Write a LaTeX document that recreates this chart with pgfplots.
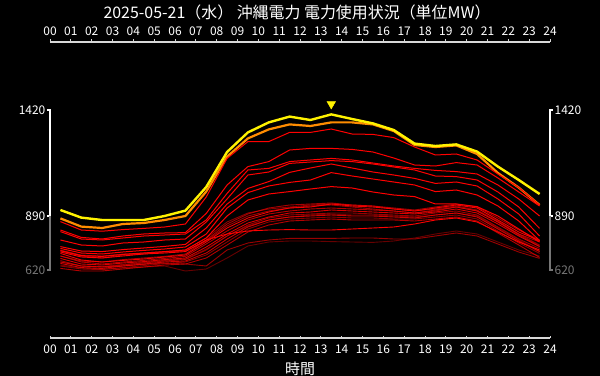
\documentclass[border=0pt]{standalone}
\usepackage{fontspec}
\setmainfont{Noto Sans CJK JP}
\usepackage{pgfplots}
\usepackage{pgfplotstable}
\pgfplotsset{compat=1.18}
\definecolor{axgray}{HTML}{D8D8D8}
\definecolor{lowgray}{HTML}{777777}
\definecolor{myorange}{HTML}{FF8C00}

\pgfplotstableread{
h Y O R1 R2 R3 R4 R5 R6 R7 C1 C2 C3 C4 C5 C6 C7 C8 C9 C10 C11 C12 C13 C14
0.5 920 878 862 820 812 770 737 728 717 703 690 678 667 653 640 628 660 645 690 710 715 660 720
1.5 882 837 820 783 775 745 715 705 692 670 660 650 640 632 625 615 640 630 665 685 690 640 695
2.5 870 830 814 775 770 740 712 700 688 660 650 645 635 628 622 615 635 625 660 680 680 638 690
3.5 870 850 822 790 780 755 722 710 698 668 660 655 645 640 632 625 640 630 672 690 695 648 700
4.5 870 855 828 800 790 760 730 718 705 675 668 662 655 650 642 635 648 635 680 700 700 658 705
5.5 890 870 835 805 795 770 738 725 712 685 678 672 665 660 652 645 655 640 688 705 710 668 712
6.5 917 890 850 807 800 775 748 735 720 695 688 680 672 665 660 650 650 615 700 712 715 675 720
7.5 1035 1012 985 903 870 860 830 800 780 760 750 735 720 705 695 680 640 625 770 770 765 725 780
8.5 1210 1187 1178 1045 1003 975 950 930 890 830 815 800 790 775 760 745 720 680 850 800 840 790 860
9.5 1308 1278 1262 1137 1120 1095 1028 1007 970 880 870 855 845 835 825 810 755 740 900 815 890 840 905
10.5 1358 1323 1262 1162 1128 1110 1062 1040 1000 910 900 885 880 870 860 845 770 760 930 820 915 870 925
11.5 1387 1348 1308 1220 1162 1153 1108 1058 1012 930 915 905 895 885 875 865 778 765 945 822 930 885 935
12.5 1370 1340 1308 1228 1170 1160 1130 1070 1025 935 925 910 900 890 880 870 778 765 950 820 940 895 945
13.5 1398 1358 1325 1228 1178 1167 1150 1107 1037 950 930 920 905 895 885 875 778 762 955 820 945 900 950
14.5 1375 1358 1300 1223 1170 1162 1130 1090 1030 940 925 915 905 890 880 870 780 760 945 825 935 895 945
15.5 1353 1348 1298 1210 1155 1150 1110 1075 1010 935 920 910 900 890 880 870 780 758 940 830 925 895 940
16.5 1320 1315 1282 1180 1140 1135 1095 1060 995 925 915 905 895 885 875 870 775 765 930 835 915 890 925
17.5 1252 1245 1235 1145 1128 1120 1078 1045 987 915 905 900 890 880 875 865 775 780 920 850 905 885 915
18.5 1240 1235 1195 1140 1118 1090 1053 1012 950 930 920 910 905 895 885 875 790 800 935 870 915 895 925
19.5 1248 1243 1200 1157 1112 1087 1060 1020 950 945 935 925 915 905 895 885 805 815 950 880 935 905 940
20.5 1212 1200 1170 1145 1100 1070 1040 995 937 930 915 905 895 885 875 865 790 800 935 860 915 890 920
21.5 1137 1105 1100 1080 1045 1010 975 940 890 870 860 850 835 825 815 805 750 760 880 810 860 830 865
22.5 1070 1032 1032 1010 975 935 900 865 825 810 800 790 775 765 755 745 710 720 820 760 795 770 800
23.5 1000 945 945 940 890 828 790 767 760 767 760 737 728 712 703 683 678 690 770 720 740 715 745
}\loaddata

\pgfplotsset{
  base/.style={
    at={(0,0)}, anchor=south west,
    scale only axis, width=500bp, height=296bp,
    xmin=0, xmax=24, ymin=280, ymax=1760,
    axis y line=none,
    x axis line style={draw=axgray, line width=1.1bp},
    xtick={0,1,...,24},
    xticklabels={00,01,02,03,04,05,06,07,08,09,10,11,12,13,14,15,16,17,18,19,20,21,22,23,24},
    major tick length=2.5bp,
    xtick style={draw=axgray, line width=0.8bp},
    clip=false,
  },
  cl/.style={red, opacity=#1, line width=0.9bp},
  rl/.style={red, line width=1bp},
}

\begin{document}
\begin{tikzpicture}
\fill[black] (-50bp,-38bp) rectangle (550bp,338bp);
\begin{axis}[base, axis x line*=top, xtick align=outside,
  xticklabel style={font=\fontsize{12}{12}\selectfont, text=white, inner sep=1bp, yshift=3bp}]
\end{axis}
\begin{axis}[base, axis x line*=bottom, xtick align=inside,
  xticklabel style={font=\fontsize{12}{12}\selectfont, text=white, inner sep=1bp, yshift=-6bp},
  xlabel={時間}, xlabel style={at={(axis description cs:0.5,0)}, anchor=center, yshift=-31bp, font=\fontsize{15}{15}\selectfont, text=white, inner sep=0bp}]
  \addplot[cl=0.4] table[x=h, y=C9] {\loaddata};
  \addplot[cl=0.45] table[x=h, y=C13] {\loaddata};
  \addplot[cl=0.55] table[x=h, y=C6] {\loaddata};
  \addplot[cl=0.55] table[x=h, y=C14] {\loaddata};
  \addplot[cl=0.6] table[x=h, y=C4] {\loaddata};
  \addplot[cl=0.6] table[x=h, y=C8] {\loaddata};
  \addplot[cl=0.6] table[x=h, y=C12] {\loaddata};
  \addplot[cl=0.65] table[x=h, y=C10] {\loaddata};
  \addplot[cl=0.7] table[x=h, y=C2] {\loaddata};
  \addplot[cl=0.7] table[x=h, y=C7] {\loaddata};
  \addplot[cl=0.8] table[x=h, y=C5] {\loaddata};
  \addplot[cl=0.85] table[x=h, y=C3] {\loaddata};
  \addplot[cl=0.95] table[x=h, y=C1] {\loaddata};
  \addplot[cl=1] table[x=h, y=C11] {\loaddata};
  \addplot[myorange, line width=2.2bp] table[x=h, y=O] {\loaddata};
  \addplot[rl] table[x=h, y=R7] {\loaddata};
  \addplot[rl] table[x=h, y=R6] {\loaddata};
  \addplot[rl] table[x=h, y=R5] {\loaddata};
  \addplot[rl] table[x=h, y=R4] {\loaddata};
  \addplot[rl] table[x=h, y=R3] {\loaddata};
  \addplot[rl] table[x=h, y=R2] {\loaddata};
  \addplot[rl] table[x=h, y=R1] {\loaddata};
  \addplot[yellow, line width=2.4bp] table[x=h, y=Y] {\loaddata};
  \addplot[only marks, mark=triangle*, mark size=5bp, mark options={rotate=180, fill=yellow, draw=yellow}] coordinates {(13.5,1450)};
  \coordinate (LT) at (axis cs:0,1420);
  \coordinate (LM) at (axis cs:0,890);
  \coordinate (LB) at (axis cs:0,620);
  \coordinate (RT) at (axis cs:24,1420);
  \coordinate (RM) at (axis cs:24,890);
  \coordinate (RB) at (axis cs:24,620);
\end{axis}
% y range frames
\draw[white, line width=1.4bp] ([xshift=-3bp]LT) -- (LT) -- (LM) -- ([xshift=-3bp]LM);
\draw[lowgray, line width=1.4bp] (LM) -- (LB) -- ([xshift=-3bp]LB);
\draw[white, line width=1.4bp] ([xshift=3bp]RT) -- (RT) -- (RM) -- ([xshift=3bp]RM);
\draw[lowgray, line width=1.4bp] (RM) -- (RB) -- ([xshift=3bp]RB);
\node[anchor=east, text=white, font=\fontsize{12}{12}\selectfont, inner sep=0pt, xshift=-4.5bp] at (LT) {1420};
\node[anchor=east, text=white, font=\fontsize{12}{12}\selectfont, inner sep=0pt, xshift=-4.5bp] at (LM) {890};
\node[anchor=east, text=lowgray, font=\fontsize{12}{12}\selectfont, inner sep=0pt, xshift=-4.5bp] at (LB) {620};
\node[anchor=west, text=white, font=\fontsize{12}{12}\selectfont, inner sep=0pt, xshift=4.5bp] at (RT) {1420};
\node[anchor=west, text=white, font=\fontsize{12}{12}\selectfont, inner sep=0pt, xshift=4.5bp] at (RM) {890};
\node[anchor=west, text=lowgray, font=\fontsize{12}{12}\selectfont, inner sep=0pt, xshift=4.5bp] at (RB) {620};
\node[text=white, font=\fontsize{16}{16}\selectfont, inner sep=0pt] at (247bp,326bp) {2025-05-21（水） 沖縄電力 電力使用状況（単位MW）};
\pgfresetboundingbox
\useasboundingbox (-50bp,-38bp) rectangle (550bp,338bp);
\end{tikzpicture}
\end{document}
